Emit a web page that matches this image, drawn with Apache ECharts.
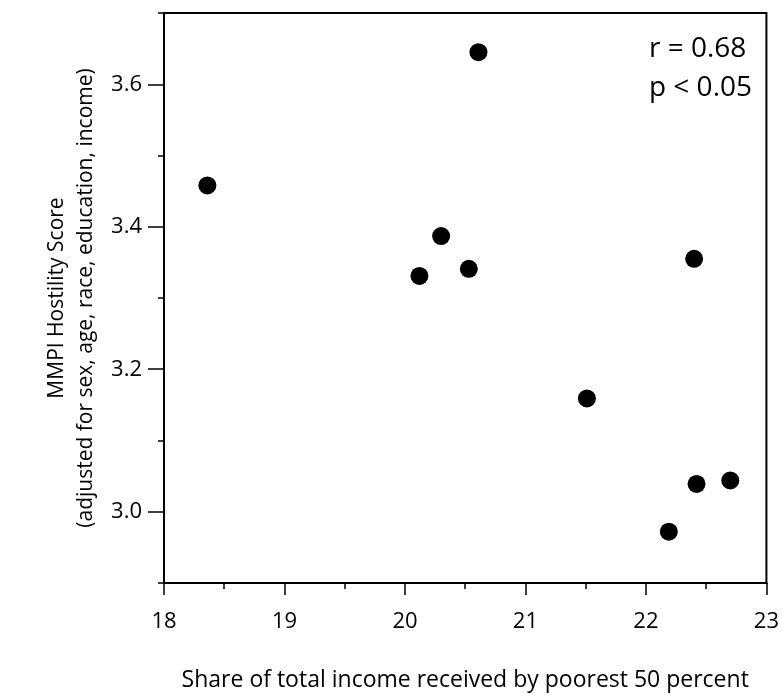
<!DOCTYPE html>
<html lang="en">
<head>
	<meta charset="UTF-8">
	<title>MMPI Hostility vs income share</title>
	<script type="text/javascript" src="https://cdn.jsdelivr.net/npm/echarts@6/dist/echarts.min.js"></script>
	<style>
		html, body { margin: 0; padding: 0; background: #fff; }
		#main { width: 782px; height: 699px; }
	</style>
</head>
<body>
    <div id="main"></div>
    <script type="text/javascript">
        // share of total income received by poorest 50 percent (x)
        var incomeShare = [18.36, 20.61, 20.30, 20.12, 20.53, 22.40, 21.51, 22.42, 22.70, 22.19];
        // adjusted MMPI hostility score (y)
        var hostility = [3.458, 3.645, 3.387, 3.331, 3.341, 3.355, 3.159, 3.039, 3.044, 2.972];

        var yMajorTicks = [3.0, 3.2, 3.4, 3.6];
        var yMinorTicks = [2.9, 3.1, 3.3, 3.5, 3.7];
        var statLines = ['r = 0.68', 'p < 0.05'];

        var font = '"Open Sans", sans-serif';
        var points = incomeShare.map(function (x, i) { return [x, hostility[i]]; });

        var myChart = echarts.init(document.getElementById('main'));
        var option = {
            backgroundColor: '#fff',
            animation: false,
            textStyle: { fontFamily: font, color: '#000' },
            grid: {
                left: 164, right: 13, top: 13, bottom: 116,
                show: true, borderColor: '#000', borderWidth: 2,
                containLabel: false
            },
            xAxis: {
                type: 'value',
                min: 18, max: 23, interval: 1,
                name: 'Share of total income received by poorest 50 percent',
                nameLocation: 'middle',
                nameGap: 86,
                nameTextStyle: { fontSize: 23, color: '#000', fontFamily: font },
                axisLine: { lineStyle: { color: '#000', width: 2 } },
                axisTick: { show: true, length: 12, lineStyle: { color: '#000', width: 1.5 } },
                minorTick: { show: true, splitNumber: 2, length: 6, lineStyle: { color: '#000', width: 1.5 } },
                axisLabel: { fontSize: 22, color: '#000', margin: 28, fontFamily: font },
                splitLine: { show: false }
            },
            yAxis: [{
                type: 'value',
                min: 2.9, max: 3.7, interval: 0.1,
                name: 'MMPI Hostility Score\n(adjusted for sex, age, race, education, income)',
                nameLocation: 'middle',
                nameRotate: 90,
                nameGap: 58,
                nameTextStyle: { fontSize: 21, color: '#000', lineHeight: 29, fontFamily: font },
                axisLine: { lineStyle: { color: '#000', width: 2 } },
                axisTick: { show: true, length: 16, customValues: yMajorTicks, lineStyle: { color: '#000', width: 1.5 } },
                axisLabel: {
                    fontSize: 22, color: '#000', margin: 22, fontFamily: font,
                    customValues: yMajorTicks,
                    formatter: function (v) { return v.toFixed(1); }
                },
                splitLine: { show: false }
            }, {
                type: 'value',
                position: 'left',
                min: 2.9, max: 3.7, interval: 0.1,
                axisLine: { show: false },
                axisTick: { show: true, length: 6, customValues: yMinorTicks, lineStyle: { color: '#000', width: 1.5 } },
                axisLabel: { show: false },
                splitLine: { show: false }
            }],
            graphic: [{
                type: 'text',
                right: 30, top: 30,
                style: {
                    text: statLines.join('\n'),
                    font: '28px ' + font,
                    lineHeight: 39,
                    fill: '#000',
                    align: 'right'
                }
            }],
            series: [{
                type: 'scatter',
                data: points,
                symbol: 'circle',
                symbolSize: 18,
                itemStyle: { color: '#000', opacity: 1 }
            }]
        };
        myChart.setOption(option);
    </script>
</body>
</html>
